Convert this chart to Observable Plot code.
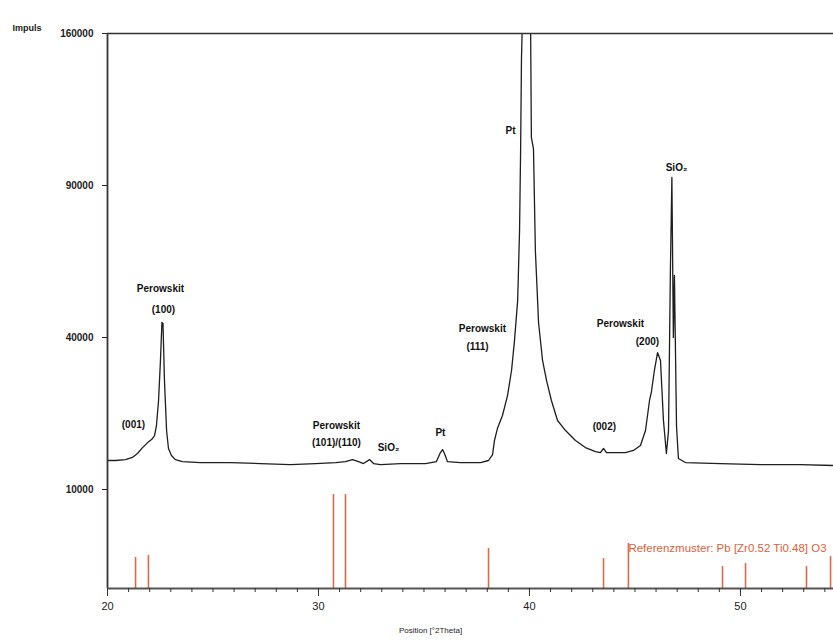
<!DOCTYPE html>
<html><head><meta charset="utf-8">
<script src="https://cdn.jsdelivr.net/npm/d3@7"></script>
<script src="https://cdn.jsdelivr.net/npm/@observablehq/plot@0.6"></script>
<style>body{margin:0;background:#fff}</style>
</head><body><div id="chart"></div>
<script>
// Measured XRD pattern (position in °2Theta, intensity in counts)
const twoTheta = [20.00,20.38,20.85,21.18,21.42,21.66,21.90,22.09,22.23,22.32,22.42,22.51,22.58,22.63,22.70,22.80,22.89,23.03,23.22,23.55,24.41,25.83,27.25,28.67,29.86,30.81,31.28,31.61,31.90,32.13,32.42,32.61,32.94,33.89,35.07,35.59,35.78,35.88,35.97,36.11,36.73,37.68,38.06,38.25,38.34,38.48,38.72,38.96,39.15,39.29,39.44,39.53,39.58,39.62,39.67,39.75,39.91,40.05,40.09,40.19,40.28,40.43,40.62,40.81,41.04,41.33,41.71,42.18,42.65,43.13,43.36,43.51,43.65,44.08,44.55,44.93,45.26,45.50,45.69,45.78,45.92,46.07,46.21,46.35,46.49,46.59,46.68,46.75,46.82,46.87,46.97,47.06,47.39,49.05,50.95,52.84,54.41];
const impulse  = [14185,14185,14330,14665,15300,16280,17130,17660,18360,20190,25150,34190,44060,43800,29480,19270,16130,14980,14330,14020,13870,13870,13710,13550,13710,13870,14020,14330,14020,13710,14330,13710,13550,13710,13710,14020,15450,15950,15300,14020,13870,13870,14185,15130,17480,19630,22110,26180,31790,39200,50310,73120,104330,146100,170000,220000,300000,170000,110000,105000,66150,44060,34190,29480,25150,21140,19270,17480,16280,15625,15450,16130,15450,15450,15450,15800,16620,19270,25150,27000,31790,36140,34190,21140,15300,19270,60000,93210,40000,57980,20000,14500,13870,13710,13550,13550,13410];

// Reference pattern sticks
const refPos = [21.33,21.94,30.71,31.28,38.06,43.51,44.69,49.15,50.24,53.13,54.27];
const refInt = [3058,3204,9350,9350,3745,2981,4160,2430,2632,2430,3125];
const refLabel = "Referenzmuster: Pb [Zr0.52 Ti0.48] O3";

// Axis ticks
const yTickValues = [10000, 40000, 90000, 160000];
const xMajor = [20, 30, 40, 50];
const xMinor = [20,21,22,23,24,25,26,27,28,29,30,31,32,33,34,35,36,37,38,39,40,41,42,43,44,45,46,47,48,49,50,51,52,53,54];

// Peak annotations
const annText = ["Perowskit","(100)","(001)","Perowskit","(101)/(110)","SiO₂","Pt","Pt","Perowskit","(111)","(002)","Perowskit","(200)","SiO₂"];
const annX    = [22.51,22.65,21.23,30.85,30.85,33.32,35.78,39.10,37.77,37.54,43.55,44.31,45.59,46.97];
const annY    = [53900,47700,20400,20190,17130,16280,18900,113000,42400,37680,20000,43770,38970,97220];

const Y0 = 1218, YTOP = 160000;
const pattern = twoTheta.map((x, i) => ({x, y: impulse[i]}));
const refs = refPos.map((x, i) => ({x, y: refInt[i]}));
const anns = annText.map((t, i) => ({t, x: annX[i], y: annY[i]}));

const chart = Plot.plot({
  width: 833, height: 644,
  marginLeft: 107, marginRight: 0, marginTop: 33, marginBottom: 56,
  style: {fontFamily: "'Liberation Sans', Arial, sans-serif", background: "#fff", color: "#222"},
  x: {domain: [20, 54.41]},
  y: {type: "sqrt", domain: [Y0, YTOP]},
  marks: [
    Plot.ruleX(refs, {x: "x", y1: Y0, y2: "y", stroke: "#dc6a48", strokeWidth: 1.6}),
    Plot.text([refLabel], {x: 44.69, y: 3745, text: d => d, textAnchor: "start", fill: "#e0603a", fontSize: 11.5}),
    Plot.line(pattern, {x: "x", y: "y", stroke: "#1e1e1e", strokeWidth: 1.3, clip: true}),
    Plot.ruleY([YTOP], {stroke: "#333", strokeWidth: 1.6}),
    Plot.ruleX([20], {stroke: "#3a3333", strokeWidth: 1.8}),
    Plot.ruleY([Y0], {stroke: "#555", strokeWidth: 1.8}),
    Plot.axisX({ticks: xMinor, tickSize: 4, tickFormat: () => "", label: null, stroke: "#333"}),
    Plot.axisX({ticks: xMajor, tickSize: 8, tickPadding: 6, fontSize: 11, label: null, stroke: "#333"}),
    Plot.axisY({ticks: yTickValues, tickSize: 5, tickPadding: 9, tickFormat: d3.format("d"), label: null, fontSize: 10, fontWeight: "bold"}),
    Plot.text(anns, {x: "x", y: "y", text: "t", fontWeight: "bold", fontSize: 10, fill: "#111"}),
    Plot.text(["Impuls"], {frameAnchor: "top-left", dx: -95, dy: -9, textAnchor: "start", fontWeight: "bold", fontSize: 9, text: d => d}),
    Plot.text(["Position [°2Theta]"], {frameAnchor: "bottom", dx: -40, dy: 44, fontSize: 8, text: d => d})
  ]
});
document.getElementById("chart").appendChild(chart);
</script>
</body></html>
